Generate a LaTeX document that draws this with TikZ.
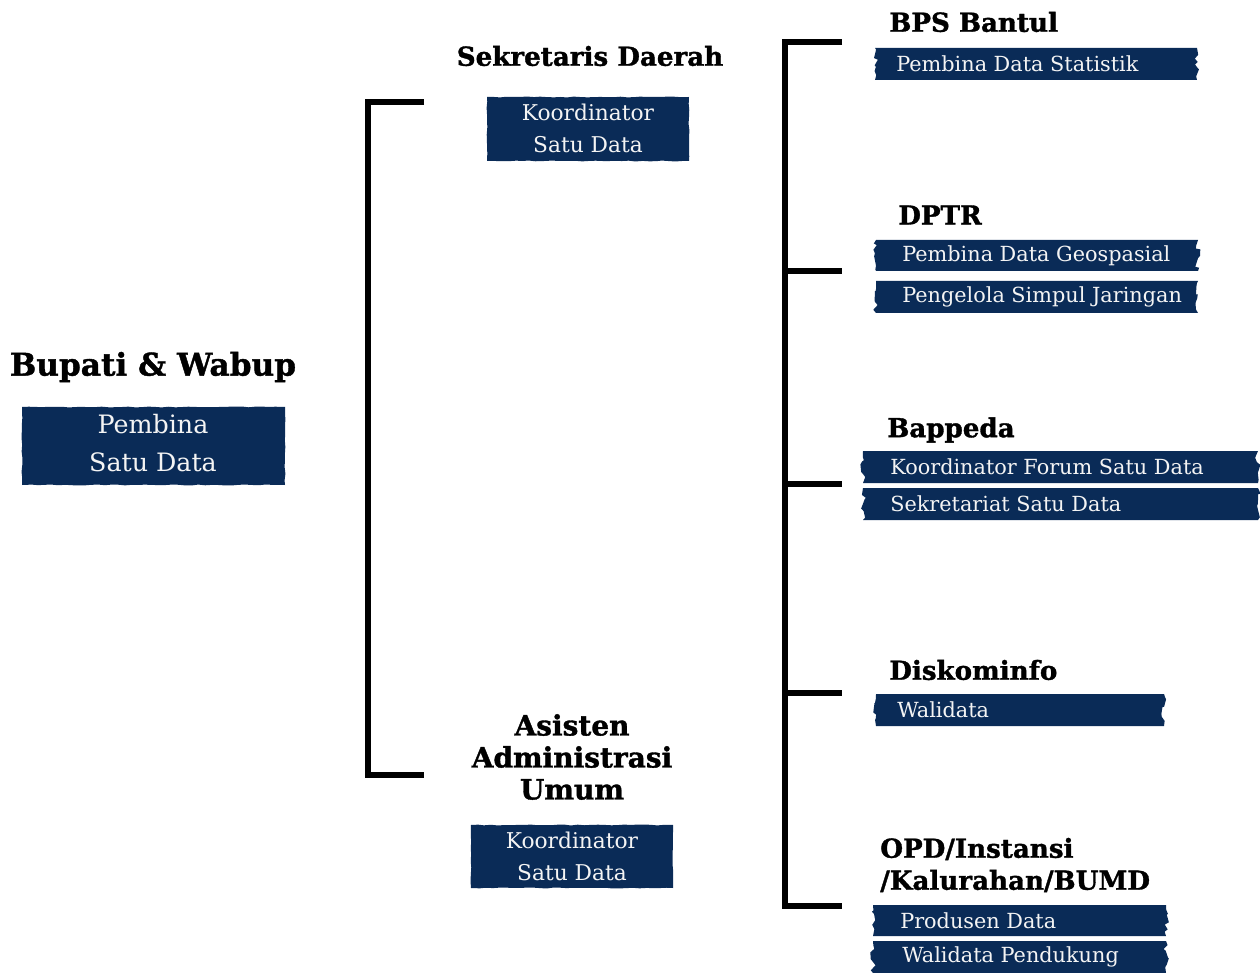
\documentclass[tikz,border=0pt]{standalone}
\usepackage{fontspec}
\setmainfont{DejaVu Serif}[BoldFeatures={FakeBold=1.3}]
\usetikzlibrary{decorations.pathmorphing}
\definecolor{navy}{HTML}{0A2B57}
\definecolor{paper}{HTML}{F4F4F4}
\pgfmathsetseed{4242}
\tikzset{
  brk/.style={line width=3.9pt, line join=miter, black},
  jag/.style={decoration={random steps,segment length=3pt,amplitude=2.2pt}},
  rough/.style={decoration={random steps,segment length=5pt,amplitude=0.35pt}},
  title/.style={font=\bfseries\fontsize{23.4}{28}\selectfont, inner sep=0pt},
  head/.style={font=\bfseries\fontsize{19.6}{24}\selectfont, inner sep=0pt},
  bighead/.style={font=\bfseries\fontsize{21}{24}\selectfont, inner sep=0pt, align=center},
  bigtext/.style={text=paper, font=\fontsize{19}{28}\selectfont, align=center, inner sep=0pt},
  boxtext/.style={text=paper, font=\fontsize{16.3}{24}\selectfont, align=center, inner sep=0pt},
  bantext/.style={text=paper, font=\fontsize{15.6}{18}\selectfont, inner sep=0pt},
}
\newcommand\mybanner[7]{%
  \coordinate (#1-nw) at (#2,#3);
  \coordinate (#1-se) at (#4,#5);
  \fill[navy, jag] (#1-nw) -- (#4,#3) decorate{-- (#1-se)} -- (#2,#5) decorate{-- (#1-nw)} -- cycle;
  \node[bantext, anchor=west] (#1) at (#6,{(#3+#5)/2}) {#7};
}
\newcommand\mybox[5]{%
  \coordinate (#1-nw) at (#2,#3);
  \coordinate (#1-se) at (#4,#5);
  \fill[navy, rough] decorate{(#1-nw) -- (#4,#3) -- (#1-se) -- (#2,#5) -- cycle};
}
\begin{document}
\begin{tikzpicture}[x=0.75pt, y=-0.75pt]
\useasboundingbox (0,0) rectangle (1260,973);

% left column
\node[title] (bupati) at (153,367) {Bupati \& Wabup};
\mybox{bupbox}{22}{407}{285}{485}
\node[bigtext] (bupt) at (153,443) {Pembina\\Satu Data};

% middle column
\node[head] (sekda) at (590,56) {Sekretaris Daerah};
\mybox{sekbox}{487}{97}{689}{161}
\node[boxtext] (sekt) at (588,128) {Koordinator\\Satu Data};

\node[bighead] (asisten) at (572,757) {Asisten\\Administrasi\\Umum};
\mybox{asbox}{471}{825}{673}{888}
\node[boxtext] (ast) at (572,856) {Koordinator\\Satu Data};

% left bracket
\coordinate (l1) at (424,102);
\coordinate (l2) at (368,102);
\coordinate (l3) at (368,775);
\coordinate (l4) at (424,775);
\draw[brk] (l1) -- (l2) -- (l3) -- (l4);

% right bracket
\coordinate (r1a) at (842,42);
\coordinate (r1) at (785,42);
\coordinate (r5) at (785,906);
\coordinate (r5a) at (842,906);
\coordinate (r2) at (785,271);
\coordinate (r2a) at (842,271);
\coordinate (r3) at (785,484);
\coordinate (r3a) at (842,484);
\coordinate (r4) at (785,693);
\coordinate (r4a) at (842,693);
\draw[brk] (r1a) -- (r1) -- (r5) -- (r5a);
\draw[brk] (r2) -- (r2a);
\draw[brk] (r3) -- (r3a);
\draw[brk] (r4) -- (r4a);

% right column
\node[head, anchor=west] (bps) at (889,22) {BPS Bantul};
\mybanner{b1}{875}{48}{1197}{80}{896}{Pembina Data Statistik}

\node[head, anchor=west] (dptr) at (898,215) {DPTR};
\mybanner{b2}{876}{240}{1198}{271}{902}{Pembina Data Geospasial}
\mybanner{b3}{876}{281}{1198}{313}{902}{Pengelola Simpul Jaringan}

\node[head, anchor=west] (bappeda) at (887,430) {Bappeda};
\mybanner{b4}{863}{451}{1258}{483}{890}{Koordinator Forum Satu Data}
\mybanner{b5}{863}{488}{1258}{520}{890}{Sekretariat Satu Data}

\node[head, anchor=west] (disk) at (889,670) {Diskominfo};
\mybanner{b6}{876}{694}{1164}{726}{897}{Walidata}

\node[head, anchor=west, align=left] (opd) at (880,865) {OPD/Instansi\\/Kalurahan/BUMD};
\mybanner{b7}{873}{905}{1166}{936}{900}{Produsen Data}
\mybanner{b8}{873}{941}{1166}{973}{902}{Walidata Pendukung}
\end{tikzpicture}
\end{document}
